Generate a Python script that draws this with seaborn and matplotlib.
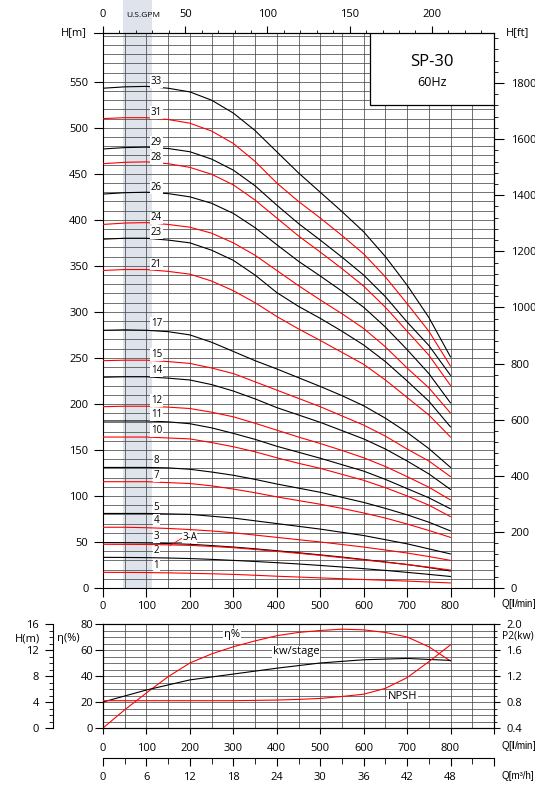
import numpy as np
import pandas as pd
import matplotlib
matplotlib.use('Agg')
import matplotlib.pyplot as plt
import seaborn as sns
from matplotlib.ticker import MultipleLocator, FixedLocator, FuncFormatter
from matplotlib.patches import Rectangle

# ================================
# DATA
# ================================
q_lmin = [0, 50, 100, 150, 200, 250, 300, 350, 400, 450, 500, 550, 600, 650, 700, 750, 800]

h_33 = [543, 544.5, 545, 543, 539, 530, 516, 497, 474, 451, 430, 409, 387, 360, 329, 294, 251]
h_31 = [510, 511, 511, 509, 505, 496.5, 483, 463.5, 440, 420, 402, 383, 363, 338, 309, 279, 241]
h_29 = [477, 478.5, 479, 477.5, 474, 466, 454, 437, 416, 396, 378, 359.5, 340, 316.5, 289, 263.5, 231]
h_28 = [461, 462.5, 463, 461, 457, 449.5, 438, 421.5, 402, 382.5, 365, 347, 328, 305, 279, 253, 220]
h_26 = [428, 429.5, 430, 428.5, 425, 418, 407, 391.5, 373, 355, 339, 322.5, 305, 283.5, 259, 233, 201]
h_24 = [395, 396.5, 397, 395, 392, 385.5, 375, 361.5, 345, 328.5, 313, 298, 282, 262, 239, 217.5, 190]
h_23 = [379, 380, 380, 378, 375, 367, 356, 340, 321, 306, 293, 279, 264, 246, 225, 203, 175]
h_21 = [345, 346, 346, 344, 341, 333.5, 323, 310, 295, 281.5, 269, 256, 243, 226, 207, 188, 164]
h_17 = [280, 280.5, 280, 278.5, 275, 267, 257, 247, 238, 228.5, 219, 209, 198, 184.5, 169, 151.5, 131]
h_15 = [247, 247.5, 247.5, 246, 244, 239, 233, 224, 215, 206, 197, 187, 177, 165, 151, 138, 121]
h_14 = [229, 229.5, 229.5, 228, 226, 221, 214, 205.5, 196, 188, 180, 171, 162, 151, 138, 124, 107]
h_12 = [197, 197.5, 197.5, 196.5, 195, 191, 186, 179, 171.5, 164, 157, 149.5, 141.5, 132, 121, 109.5, 95.6]
h_11 = [181.5, 181.5, 181.5, 180.5, 178.5, 174, 168, 161.5, 154, 147.5, 141, 134, 127, 118, 108, 98, 86]
h_10 = [164, 164, 164, 163, 162, 158, 153.5, 148, 141.5, 135.5, 130, 123.5, 117, 109, 100, 90, 77.5]
h_8 = [131, 131, 131, 130.5, 129, 126, 122.5, 118, 113, 108.5, 104, 98.5, 93, 86.5, 79.5, 71.5, 62]
h_7 = [115.5, 115.5, 115.5, 114.5, 113.5, 111, 107.5, 103.5, 99, 95, 91, 86.5, 81.5, 76, 69.5, 62.5, 55]
h_5 = [81, 81, 81, 80.5, 80, 78, 76, 73, 70, 67, 64, 60.5, 57, 52.5, 48, 42.5, 37]
h_4 = [66, 66, 65.5, 64.7, 63.5, 62, 60, 57.5, 55, 52.5, 50, 47.3, 44.5, 41.3, 38, 34.2, 30]
h_3 = [49.3, 49.2, 49, 48.3, 47.5, 46.1, 44.5, 42.6, 40.5, 38.3, 36, 33.6, 31, 28.3, 25.5, 22.2, 18.5]
h_3a = [47.5, 47.4, 47.3, 46.9, 46.3, 45.2, 43.8, 41.9, 39.8, 37.7, 35.5, 33, 30.5, 28, 25.5, 22.6, 19.5]
h_2 = [33.3, 33.2, 33, 32.6, 32, 31.1, 30, 28.8, 27.5, 26.1, 24.5, 22.8, 21, 19.1, 17, 14.8, 12.5]
h_1 = [17, 16.95, 16.8, 16.45, 16, 15.45, 14.8, 13.85, 12.8, 11.9, 11, 10.1, 9.2, 8.35, 7.5, 6.5, 5.5]

stage_names = ['33', '31', '29', '28', '26', '24', '23', '21', '17', '15', '14',
               '12', '11', '10', '8', '7', '5', '4', '3', '3-A', '2', '1']
stage_heads = [h_33, h_31, h_29, h_28, h_26, h_24, h_23, h_21, h_17, h_15, h_14,
               h_12, h_11, h_10, h_8, h_7, h_5, h_4, h_3, h_3a, h_2, h_1]
stage_colors = ['black', 'red', 'black', 'red', 'black', 'red', 'black', 'red',
                'black', 'red', 'black', 'red', 'black', 'red', 'black', 'red',
                'black', 'red', 'black', 'red', 'black', 'red']

# lower panel
q_eff = [0, 50, 100, 150, 200, 250, 300, 350, 400, 450, 500, 550, 600, 650, 700, 750, 800]
eff_pct = [0, 14, 27, 39.5, 50, 57, 62.5, 67, 71, 73.5, 75, 76, 75.5, 73.5, 70, 62.5, 51.5]

q_kw = [0, 100, 200, 300, 400, 500, 600, 700, 800]
kw_stage = [0.80, 0.985, 1.14, 1.23, 1.32, 1.40, 1.45, 1.47, 1.44]

q_npsh = [0, 100, 200, 300, 400, 450, 500, 550, 600, 650, 700, 750, 800]
npsh_m = [4.2, 4.2, 4.2, 4.2, 4.3, 4.4, 4.55, 4.85, 5.2, 6.1, 7.75, 10.2, 12.8]

# ================================
# STYLE
# ================================
sns.set_theme(style='white')
plt.rcParams['font.family'] = ['Open Sans', 'DejaVu Sans']
plt.rcParams.update({
    'axes.edgecolor': 'black', 'axes.linewidth': 0.8,
    'xtick.color': 'black', 'ytick.color': 'black',
    'xtick.labelsize': 8, 'ytick.labelsize': 8, 'font.size': 8,
    'text.color': 'black',
    'mathtext.fontset': 'custom',
    'mathtext.rm': 'Liberation Sans',
    'mathtext.bf': 'Liberation Sans:bold',
})
GRID = '#4a4a4a'
BAND = '#dfe4ec'
LW = 0.8
NARROW = ['Liberation Sans Narrow', 'Liberation Sans', 'DejaVu Sans']
W, H = 535, 785

fig = plt.figure(figsize=(W / 100, H / 100), dpi=100)
# watermark strip above the chart
fig.patches.append(Rectangle((123 / W, 1 - 33 / H), 29 / W, 33 / H, transform=fig.transFigure,
                             fc=BAND, ec='none', zorder=-1))

# ================================
# MAIN PANEL: H vs Q
# ================================
ax = fig.add_axes([103 / W, 1 - 588 / H, 391 / W, 555 / H])
ax.set_xlim(0, 900)
ax.set_ylim(0, 603)
ax.axvspan(46, 112, color=BAND, lw=0, zorder=0)

rows = []
for name, heads in zip(stage_names, stage_heads):
    for q, h in zip(q_lmin, heads):
        rows.append((name, q, h))
df = pd.DataFrame(rows, columns=['stage', 'Q', 'H'])
sns.lineplot(data=df, x='Q', y='H', hue='stage', palette=dict(zip(stage_names, stage_colors)),
             estimator=None, sort=False, legend=False, linewidth=LW, ax=ax, zorder=3)

for name, heads in zip(stage_names, stage_heads):
    if name == '3-A':
        continue
    ax.text(123, heads[0] + 7, name, ha='center', va='center', fontsize=7, zorder=4,
            bbox=dict(fc='white', ec='none', pad=0.6))
ax.plot([154, 181], [46, 54], color='red', lw=0.6, zorder=4)
ax.text(182, 55, '3-A', ha='left', va='center', fontsize=7, zorder=4,
        bbox=dict(fc='white', ec='none', pad=0.3))

ax.xaxis.set_major_locator(MultipleLocator(100))
ax.xaxis.set_minor_locator(MultipleLocator(50))
ax.xaxis.set_major_formatter(FuncFormatter(lambda v, p: '' if v > 850 else f'{v:.0f}'))
ax.yaxis.set_major_locator(FixedLocator(np.arange(0, 551, 50)))
ax.yaxis.set_minor_locator(MultipleLocator(10))
ax.grid(which='both', color=GRID, lw=0.55)
ax.set_axisbelow(True)
ax.tick_params(which='major', direction='out', length=6.5, width=0.8, pad=3,
               bottom=True, left=True)
ax.tick_params(axis='y', which='major', pad=4)
ax.tick_params(which='minor', length=0)
ax.set_xlabel('')
ax.set_ylabel('')

ax.text(-0.04, 1.0, 'H[m]', transform=ax.transAxes, ha='right', va='center', fontsize=8)
ax.plot([-0.023, 0], [1, 1], transform=ax.transAxes, color='black', lw=0.8, clip_on=False)
ax.text(1.03, 1.0, 'H[ft]', transform=ax.transAxes, ha='left', va='center', fontsize=8)
ax.text(1.018, -0.0288, r'Q[$\mathbf{l}$/min]', transform=ax.transAxes, ha='left',
        va='center', fontsize=7, family=NARROW)

ax_ft = ax.secondary_yaxis('right', functions=(lambda m: m * 3.28084, lambda f: f / 3.28084))
ax_ft.yaxis.set_major_locator(FixedLocator(np.arange(0, 1801, 200)))
ax_ft.yaxis.set_minor_locator(MultipleLocator(40))
ax_ft.tick_params(which='major', direction='out', length=7, width=0.8, pad=5)
ax_ft.tick_params(which='minor', direction='out', length=3, width=0.6)

ax_gpm = ax.secondary_xaxis('top', functions=(lambda q: q / 3.78541, lambda g: g * 3.78541))
ax_gpm.xaxis.set_major_locator(FixedLocator([0, 50, 100, 150, 200]))
ax_gpm.xaxis.set_minor_locator(FixedLocator(np.arange(0, 231, 10)))
ax_gpm.tick_params(which='major', direction='out', length=5, width=0.8, pad=4)
ax_gpm.tick_params(which='minor', direction='out', length=2.5, width=0.6)
ax.text(92 / 900, 1.032, 'U.S.GPM', transform=ax.transAxes, ha='center', va='center',
        fontsize=6, zorder=5)

ax.add_patch(Rectangle((615, 525), 285, 78, fc='white', ec='black', lw=0.9, zorder=5))
ax.text(757, 572, 'SP-30', ha='center', va='center', fontsize=12, zorder=6)
ax.text(757, 549, '60Hz', ha='center', va='center', fontsize=9, zorder=6)

# ================================
# LOWER PANEL: efficiency, kw/stage, NPSH
# ================================
ax2 = fig.add_axes([103 / W, 1 - 728 / H, 391 / W, 104 / H])
ax2.set_xlim(0, 900)
ax2.set_ylim(0, 80)
ax2.xaxis.set_major_locator(MultipleLocator(100))
ax2.xaxis.set_minor_locator(MultipleLocator(50))
ax2.xaxis.set_major_formatter(FuncFormatter(lambda v, p: '' if v > 850 else f'{v:.0f}'))
ax2.yaxis.set_major_locator(FixedLocator([0, 20, 40, 60, 80]))
ax2.yaxis.set_minor_locator(MultipleLocator(5))
ax2.grid(which='both', color=GRID, lw=0.55)
ax2.set_axisbelow(True)
ax2.tick_params(which='major', direction='out', length=4, width=0.8, bottom=True, left=True)
ax2.tick_params(axis='x', which='major', pad=7)
ax2.tick_params(axis='y', which='major', length=6, pad=1)
ax2.tick_params(which='minor', length=0)
sns.lineplot(x=q_eff, y=eff_pct, color='red', linewidth=LW, ax=ax2, zorder=3)
ax2.text(1.018, -0.173, r'Q[$\mathbf{l}$/min]', transform=ax2.transAxes, ha='left',
         va='center', fontsize=7, family=NARROW)
ax2.text(297, 72, 'η%', ha='center', va='center', fontsize=8, zorder=4,
         bbox=dict(fc='white', ec='none', pad=0.5))
ax2.text(444, 58.5, 'kw/stage', ha='center', va='center', fontsize=8, zorder=4,
         bbox=dict(fc='white', ec='none', pad=0.5))
ax2.text(690, 24.6, 'NPSH', ha='center', va='center', fontsize=8, zorder=4,
         bbox=dict(fc='white', ec='none', pad=0.5))

ax_p2 = ax2.twinx()
ax_p2.set_ylim(0.4, 2.0)
sns.lineplot(x=q_kw, y=kw_stage, color='black', linewidth=LW, ax=ax_p2, zorder=3)
ax_p2.yaxis.set_major_locator(FixedLocator([0.4, 0.8, 1.2, 1.6, 2.0]))
ax_p2.yaxis.set_minor_locator(MultipleLocator(0.1))
ax_p2.yaxis.set_major_formatter(FuncFormatter(lambda v, p: f'{v:.1f}'))
ax_p2.tick_params(which='major', direction='out', length=4, width=0.8, pad=5, right=True)
ax_p2.tick_params(which='minor', direction='out', length=2, width=0.6, right=True)
ax_p2.set_ylabel('')
ax_p2.text(1.02, 0.885, 'P2(kw)', transform=ax2.transAxes, ha='left', va='center', fontsize=7.5)

ax_h = ax2.twinx()
ax_h.set_ylim(0, 16)
sns.lineplot(x=q_npsh, y=npsh_m, color='red', linewidth=LW, ax=ax_h, zorder=3)
ax_h.spines['left'].set_position(('axes', -50 / 391))
ax_h.spines['left'].set_visible(True)
ax_h.spines['right'].set_visible(False)
ax_h.spines['top'].set_visible(False)
ax_h.spines['bottom'].set_visible(False)
ax_h.yaxis.set_ticks_position('left')
ax_h.yaxis.set_major_locator(FixedLocator([0, 4, 8, 12, 16]))
ax_h.yaxis.set_minor_locator(MultipleLocator(1))
ax_h.tick_params(which='major', direction='out', length=6, width=0.8, pad=4, left=True)
ax_h.tick_params(which='minor', direction='out', length=3, width=0.6, left=True)
ax_h.set_ylabel('')

fig.text(28 / W, 1 - 639 / H, 'H(m)', ha='center', va='center', fontsize=8)
fig.text(68 / W, 1 - 639 / H, 'η(%)', ha='center', va='center', fontsize=8)

# ================================
# m3/h SCALE
# ================================
ax3 = fig.add_axes([103 / W, 1 - 758 / H, 391 / W, 0.0001])
ax3.set_xlim(0, 54)
ax3.patch.set_visible(False)
for s in ['left', 'right', 'top']:
    ax3.spines[s].set_visible(False)
ax3.set_yticks([])
ax3.xaxis.set_major_locator(MultipleLocator(6))
ax3.xaxis.set_minor_locator(MultipleLocator(3))
ax3.xaxis.set_major_formatter(FuncFormatter(lambda v, p: '' if v > 50 else f'{v:.0f}'))
ax3.tick_params(which='major', direction='out', length=6, width=0.8, pad=4, bottom=True)
ax3.tick_params(which='minor', direction='out', length=4, width=0.6, bottom=True)
fig.text(501 / W, 1 - 776 / H, 'Q[m³/h]', ha='left', va='center', fontsize=7, family=NARROW)

fig.savefig('out.png', dpi=100)
